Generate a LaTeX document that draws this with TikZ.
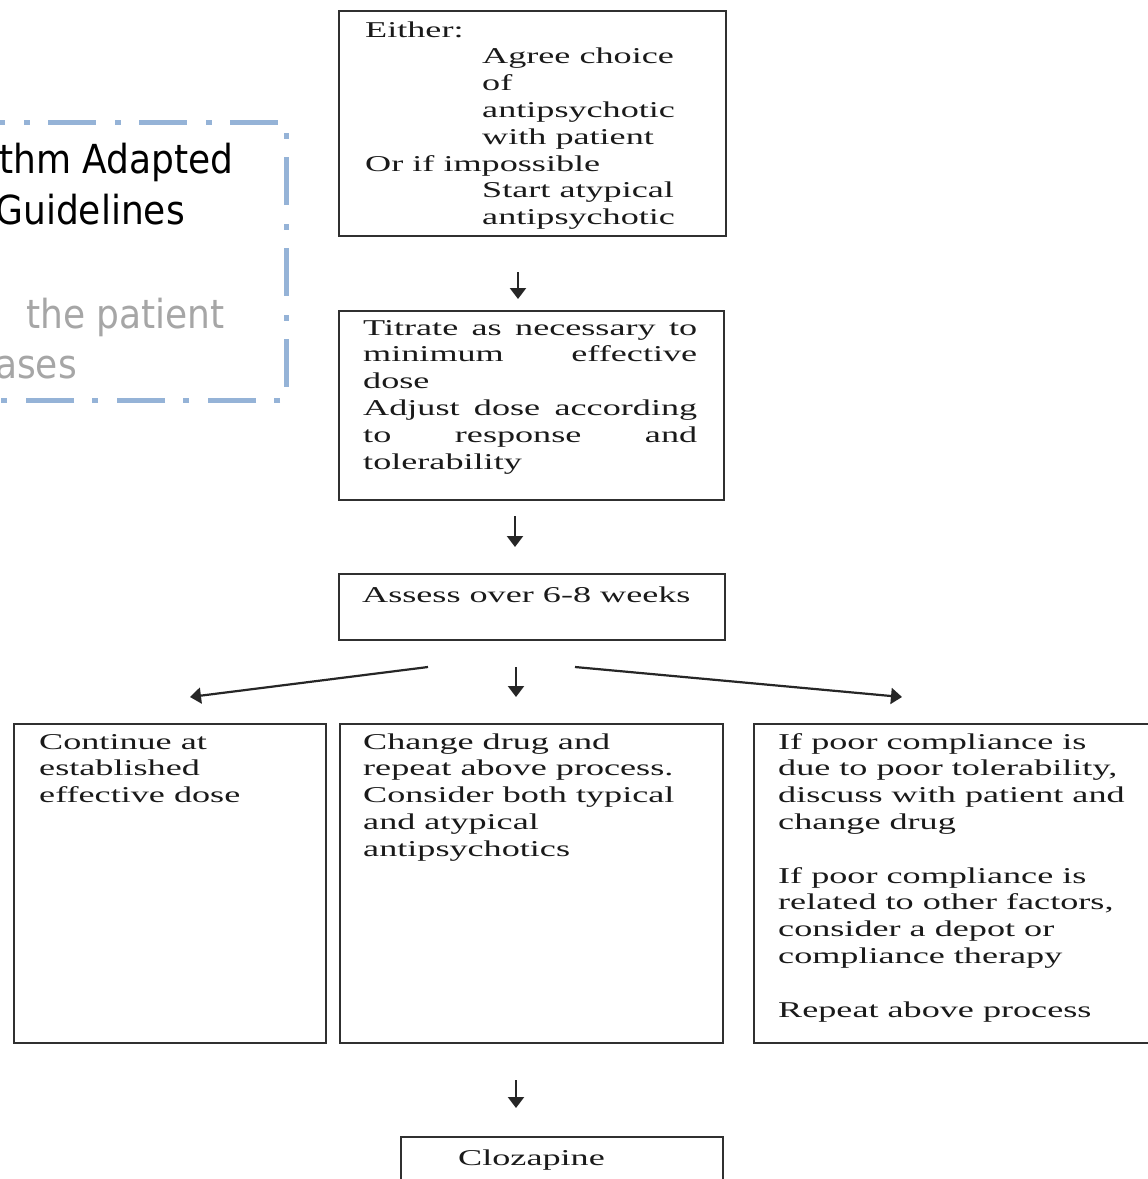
\documentclass[tikz,border=0pt]{standalone}
\usepackage{fontspec}
\usetikzlibrary{arrows.meta}
\newfontfamily\flowfont[FakeStretch=1.6]{Liberation Serif}
\newfontfamily\slidefont{DejaVu Sans Condensed}
\definecolor{boxline}{HTML}{303030}
\definecolor{flowink}{HTML}{1A1A1A}
\definecolor{arrowink}{HTML}{262626}
\definecolor{dashblue}{HTML}{95B3D7}
\definecolor{paleink}{HTML}{A6A6A6}
\newcommand{\jline}[1]{\makebox[334pt][s]{#1}}
\newcommand{\flowpar}[1]{\parbox[t]{380pt}{\raggedright #1}}
\begin{document}
\begin{tikzpicture}[x=1pt,y=-1pt,
  flowbox/.style={draw=boxline, line width=1.8pt, inner sep=0pt, anchor=north west},
  flowtxt/.style={inner sep=0pt, anchor=base west, text=flowink,
    font=\flowfont\fontsize{22.6}{26.8}\selectfont},
  slidetxt/.style={inner sep=0pt, anchor=base east,
    font=\slidefont\fontsize{40}{48}\selectfont},
  arr/.style={draw=arrowink, line width=2.2pt, -{Triangle[length=11pt,width=16pt]}}]
\useasboundingbox (0,0) rectangle (1148,1179);
\clip (0,0) rectangle (1148,1179);
\fill[white] (0,0) rectangle (1148,1179);

% slide text box (dash-dot frame)
\draw[dashblue, line width=5pt, dash pattern=on 48pt off 19pt on 6pt off 18pt, dash phase=3pt]
  (-40,122) -- (286,122) -- (286,400) -- (-40,400);
\node[slidetxt, text=black] (t1) at (234,173) {thm Adapted};
\node[slidetxt, text=black] (t2) at (185,224) {Guidelines};
\node[slidetxt, text=paleink] (t3) at (225,328) {the patient};
\node[slidetxt, text=paleink] (t4) at (77,378) {ases};

% boxes
\node[flowbox, minimum width=387pt, minimum height=225pt] (b1) at (338,10) {};
\node[flowbox, minimum width=385pt, minimum height=189pt] (b2) at (338,310) {};
\node[flowbox, minimum width=386pt, minimum height=66pt] (b3) at (338,573) {};
\node[flowbox, minimum width=312pt, minimum height=319pt] (b4) at (13,723) {};
\node[flowbox, minimum width=383pt, minimum height=319pt] (b5) at (339,723) {};
\node[flowbox, minimum width=420pt, minimum height=319pt] (b6) at (753,723) {};
\node[flowbox, minimum width=322pt, minimum height=80pt] (b7) at (400,1136) {};

% texts
\node[flowtxt] (x1) at (365,37) {\flowpar{Either:\\
  \hspace*{117pt}Agree choice\\
  \hspace*{117pt}of\\
  \hspace*{117pt}antipsychotic\\
  \hspace*{117pt}with patient\\
  Or if impossible\\
  \hspace*{117pt}Start atypical\\
  \hspace*{117pt}antipsychotic}};
\node[flowtxt] (x2) at (363,335) {\flowpar{\jline{Titrate as necessary to}\\
  \jline{minimum effective}\\
  dose\\
  \jline{Adjust dose according}\\
  \jline{to response and}\\
  tolerability}};
\node[flowtxt] (x3) at (362,602) {Assess over 6-8 weeks};
\node[flowtxt] (x4) at (39,749) {\flowpar{Continue at\\established\\effective dose}};
\node[flowtxt] (x5) at (363,749) {\flowpar{Change drug and\\repeat above process.\\Consider both typical\\and atypical\\antipsychotics}};
\node[flowtxt] (x6) at (778,749) {\flowpar{If poor compliance is\\due to poor tolerability,\\discuss with patient and\\change drug\\[26.8pt]
  If poor compliance is\\related to other factors,\\consider a depot or\\compliance therapy\\[26.8pt]
  Repeat above process}};
\node[flowtxt] (x7) at (458,1165) {Clozapine};

% connectors
\coordinate (a1s) at (518,272); \coordinate (a1e) at (518,299);
\coordinate (a2s) at (515,516); \coordinate (a2e) at (515,547);
\coordinate (a3s) at (516,667); \coordinate (a3e) at (516,697);
\coordinate (aLs) at (428,667); \coordinate (aLe) at (190,697);
\coordinate (aRs) at (575,667); \coordinate (aRe) at (902,697);
\coordinate (a4s) at (516,1080); \coordinate (a4e) at (516,1108);
\draw[arr] (a1s) -- (a1e);
\draw[arr] (a2s) -- (a2e);
\draw[arr] (a3s) -- (a3e);
\draw[arr] (aLs) -- (aLe);
\draw[arr] (aRs) -- (aRe);
\draw[arr] (a4s) -- (a4e);
\end{tikzpicture}
\end{document}
